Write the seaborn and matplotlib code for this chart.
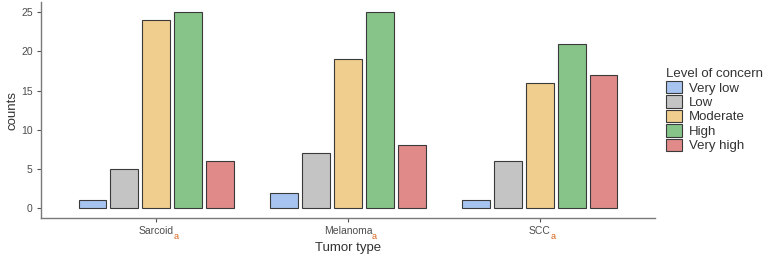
import pandas as pd
import matplotlib.pyplot as plt
import seaborn as sns

# data
tumores = ["Sarcoid", "Melanoma", "SCC"]
niveis = ["Very low", "Low", "Moderate", "High", "Very high"]
sarcoid = [1, 5, 24, 25, 6]
melanoma = [2, 7, 19, 25, 8]
scc = [1, 6, 16, 21, 17]
cores = ["#a6c4ef", "#c4c4c4", "#f0ce8d", "#86c48a", "#e08a8a"]

linhas = []
for tumor, vals in zip(tumores, [sarcoid, melanoma, scc]):
    for nivel, v in zip(niveis, vals):
        linhas.append({"Tumor type": tumor, "Level of concern": nivel, "counts": v})
df = pd.DataFrame(linhas)

sns.set_theme(style="white")
plt.rcParams["font.family"] = ["Liberation Sans", "DejaVu Sans"]

fig = plt.figure(figsize=(7.69, 2.6), dpi=100)
ax = fig.add_axes([41 / 769, 42 / 260, 614 / 769, 215.6 / 260])

sns.barplot(
    data=df, x="Tumor type", y="counts", hue="Level of concern",
    order=tumores, hue_order=niveis, palette=dict(zip(niveis, cores)),
    saturation=1, width=0.83, gap=0.13, edgecolor="#3a3a3a", linewidth=0.8, ax=ax,
)

ax.set_xlim(-0.6, 2.6)
ax.set_ylim(-1.25, 26.25)
ax.set_yticks([0, 5, 10, 15, 20, 25])
for s in ["top", "right"]:
    ax.spines[s].set_visible(False)
for s in ["left", "bottom"]:
    ax.spines[s].set_color("#7a7a7a")
    ax.spines[s].set_linewidth(1.0)
ax.tick_params(axis="both", length=3, width=0.8, color="#555555",
               labelsize=7.5, labelcolor="#4d4d4d", bottom=True, left=True, pad=3)
ax.set_xlabel("Tumor type", fontsize=9.5, color="#333333", labelpad=4)
ax.set_ylabel("counts", fontsize=9.5, color="#333333", labelpad=2)

leg = ax.legend(title="Level of concern", loc="upper left", bbox_to_anchor=(1.01, 0.72),
                frameon=False, fontsize=9.5, title_fontsize=9.5,
                handlelength=1.2, handleheight=1.1, handletextpad=0.5,
                labelspacing=0.05, borderaxespad=0)
leg._legend_box.align = "left"
for t in leg.get_texts():
    t.set_color("#333333")
leg.get_title().set_color("#333333")

# subscript "a" in orange after each tick label
fig.canvas.draw()
rend = fig.canvas.get_renderer()
for lab in ax.get_xticklabels():
    bb = lab.get_window_extent(rend)
    fig.text((bb.x1 - 0.5) / fig.bbox.width, (bb.y0 - 5) / fig.bbox.height, "a",
             color="#d9621a", fontsize=6.5, ha="left", va="bottom")

plt.savefig("out.png", dpi=100)
